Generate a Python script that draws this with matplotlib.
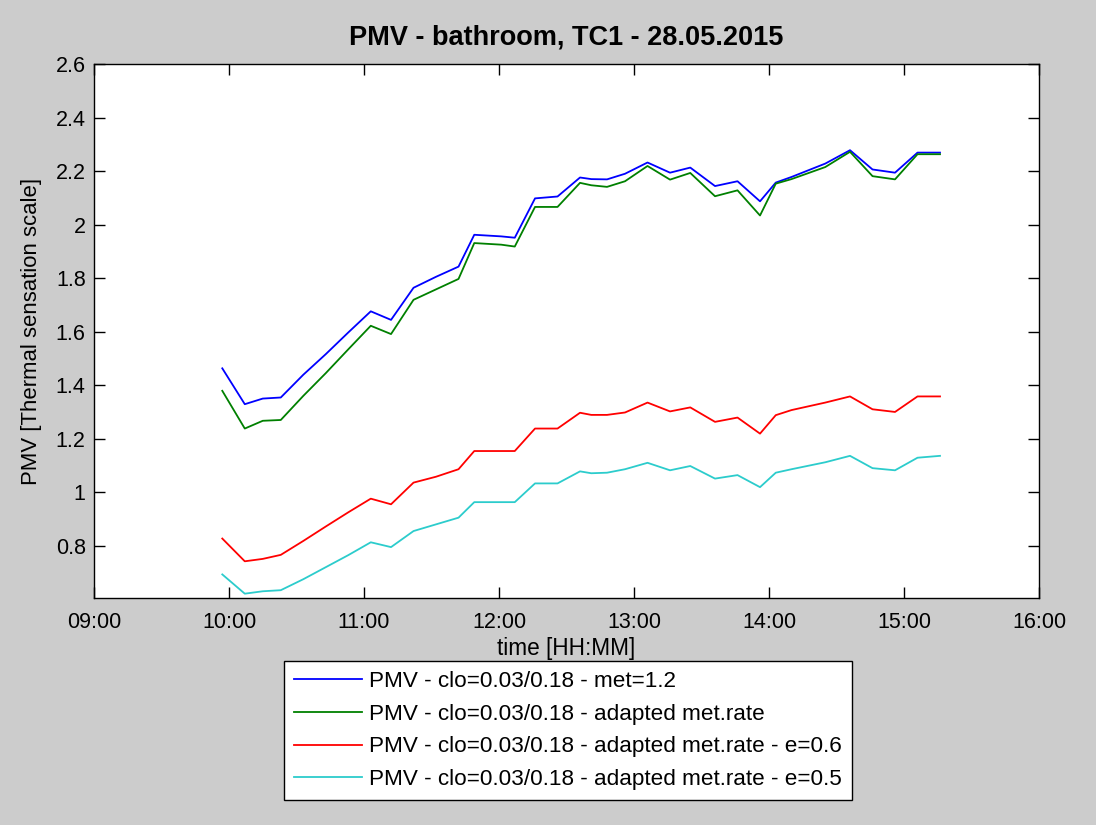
import matplotlib
matplotlib.use('Agg')
import matplotlib.pyplot as plt

# sample times (HH:MM) and PMV values
times = ['09:57', '10:07', '10:15', '10:23', '10:33', '10:43', '10:53', '11:03',
         '11:12', '11:22', '11:32', '11:42', '11:49', '12:01', '12:07', '12:16',
         '12:26', '12:36', '12:41', '12:48', '12:56', '13:06', '13:16', '13:25',
         '13:36', '13:46', '13:56', '14:03', '14:10', '14:25', '14:36', '14:46',
         '14:56', '15:06', '15:16']

pmv_met12 = [1.463, 1.329, 1.350, 1.354, 1.439, 1.516, 1.597, 1.676,
             1.644, 1.764, 1.805, 1.843, 1.962, 1.956, 1.951, 2.098,
             2.105, 2.176, 2.170, 2.169, 2.190, 2.232, 2.194, 2.213,
             2.144, 2.162, 2.087, 2.157, 2.178, 2.228, 2.278, 2.206,
             2.194, 2.269, 2.269]

pmv_adapted = [1.379, 1.238, 1.267, 1.270, 1.360, 1.445, 1.534, 1.622,
               1.591, 1.719, 1.758, 1.797, 1.931, 1.925, 1.918, 2.066,
               2.066, 2.156, 2.147, 2.141, 2.162, 2.219, 2.168, 2.193,
               2.106, 2.128, 2.034, 2.153, 2.170, 2.215, 2.272, 2.181,
               2.169, 2.263, 2.263]

pmv_e06 = [0.827, 0.742, 0.751, 0.766, 0.818, 0.872, 0.925, 0.976,
           0.955, 1.036, 1.058, 1.086, 1.154, 1.154, 1.154, 1.238,
           1.238, 1.297, 1.289, 1.289, 1.298, 1.335, 1.302, 1.317,
           1.263, 1.279, 1.219, 1.288, 1.307, 1.335, 1.358, 1.310,
           1.300, 1.358, 1.358]

pmv_e05 = [0.693, 0.621, 0.630, 0.634, 0.675, 0.720, 0.765, 0.813,
           0.795, 0.855, 0.880, 0.905, 0.963, 0.963, 0.963, 1.033,
           1.033, 1.078, 1.071, 1.073, 1.086, 1.110, 1.082, 1.098,
           1.051, 1.064, 1.019, 1.073, 1.086, 1.112, 1.136, 1.090,
           1.082, 1.129, 1.136]

labels = ['PMV - clo=0.03/0.18 - met=1.2',
          'PMV - clo=0.03/0.18 - adapted met.rate',
          'PMV - clo=0.03/0.18 - adapted met.rate - e=0.6',
          'PMV - clo=0.03/0.18 - adapted met.rate - e=0.5']
colors = ['#0000ff', '#008000', '#ff0000', '#2ccccc']

xticks = ['09:00', '10:00', '11:00', '12:00', '13:00', '14:00', '15:00', '16:00']
yticks = [0.8, 1.0, 1.2, 1.4, 1.6, 1.8, 2.0, 2.2, 2.4, 2.6]
ytick_labels = ['0.8', '1', '1.2', '1.4', '1.6', '1.8', '2', '2.2', '2.4', '2.6']


def to_hours(s):
    h, m = s.split(':')
    return int(h) + int(m) / 60.0


plt.rcParams['font.family'] = ['Liberation Sans', 'DejaVu Sans']

hours = [to_hours(t) for t in times]

fig = plt.figure(figsize=(10.96, 8.25), dpi=100, facecolor='#cccccc')
ax = fig.add_axes([0.0858, 0.2752, 0.8622, 0.6472])

for vals, col, lab in zip([pmv_met12, pmv_adapted, pmv_e06, pmv_e05], colors, labels):
    ax.plot(hours, vals, color=col, lw=1.3, label=lab)

ax.set_xlim(9, 16)
ax.set_ylim(0.605, 2.6)
ax.set_xticks([to_hours(t) for t in xticks])
ax.set_xticklabels(xticks)
ax.set_yticks(yticks)
ax.set_yticklabels(ytick_labels)
ax.tick_params(direction='in', length=8, width=1, top=True, right=True,
               labelsize=15.5, colors='black', pad=6)
ax.tick_params(axis='x', pad=10)
for sp in ax.spines.values():
    sp.set_linewidth(1)

ax.set_title('PMV - bathroom, TC1 - 28.05.2015', fontsize=19.5, fontweight='bold', pad=14)
ax.set_xlabel('time [HH:MM]', fontsize=16.3, labelpad=3)
ax.set_ylabel('PMV [Thermal sensation scale]', fontsize=15.9, labelpad=10)

leg = ax.legend(loc='upper center', bbox_to_anchor=(0.5016, -0.118), fontsize=16.2,
                frameon=True, fancybox=False, edgecolor='black', framealpha=1,
                handlelength=3.0, handletextpad=0.31, labelspacing=0.52,
                borderpad=0.45, borderaxespad=0)
leg.get_frame().set_linewidth(1)

fig.savefig('out.png', dpi=100, facecolor=fig.get_facecolor())
